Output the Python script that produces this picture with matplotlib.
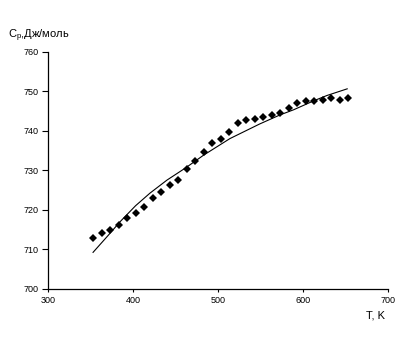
import matplotlib
matplotlib.use('Agg')
import matplotlib.pyplot as plt

plt.rcParams['font.family'] = ['Liberation Sans', 'DejaVu Sans']
plt.rcParams['mathtext.fontset'] = 'custom'
plt.rcParams['mathtext.rm'] = 'Liberation Sans'
plt.rcParams['mathtext.it'] = 'Liberation Sans'

# experimental points
t_exp = [353, 363, 373, 383, 393, 403, 413, 423, 433, 443, 453, 463, 473, 483,
         493, 503, 513, 523, 533, 543, 553, 563, 573, 583, 593, 603, 613, 623,
         633, 643, 653]
cp_exp = [712.9, 714.0, 714.9, 716.2, 717.9, 719.2, 720.7, 723.0, 724.5, 726.3,
          727.6, 730.2, 732.4, 734.7, 736.9, 737.9, 739.7, 742.0, 742.8, 743.0,
          743.5, 744.0, 744.6, 745.7, 747.0, 747.6, 747.6, 747.8, 748.3, 747.8,
          748.3]

# calculated curve
t_calc = [353, 370, 385, 403, 420, 440, 462, 483, 514, 549, 573, 589, 613, 628, 652]
cp_calc = [709.2, 713.3, 717.0, 721.0, 724.2, 727.5, 730.6, 733.8, 738.0, 741.7,
           744.0, 745.3, 747.6, 748.9, 750.6]

fig = plt.figure(figsize=(4.06, 3.6), dpi=100)
ax = fig.add_axes([48 / 406, 1 - 288.7 / 360, 340 / 406, 237 / 360])

ax.plot(t_calc, cp_calc, color='black', lw=0.8)
ax.plot(t_exp, cp_exp, 'D', color='black', ms=3.6, mew=0)

ax.set_xlim(300, 700)
ax.set_ylim(700, 760)
ax.set_xticks([300, 400, 500, 600, 700])
ax.set_yticks([700, 710, 720, 730, 740, 750, 760])

for s in ('top', 'right'):
    ax.spines[s].set_visible(False)
for s in ('left', 'bottom'):
    ax.spines[s].set_linewidth(0.9)

ax.tick_params(axis='x', direction='out', length=2.5, width=0.8, labelsize=6.5, pad=3)
ax.tick_params(axis='y', direction='out', length=4.5, width=0.8, labelsize=6.5, pad=2)

fig.text(376 / 406, 1 - 316 / 360, 'T, K', ha='center', va='center', fontsize=8)
fig.text(8 / 406, 1 - 36 / 360, 'C$_\\mathrm{p}$,Дж/моль', ha='left', va='center', fontsize=8)

fig.savefig('out.png', dpi=100)
